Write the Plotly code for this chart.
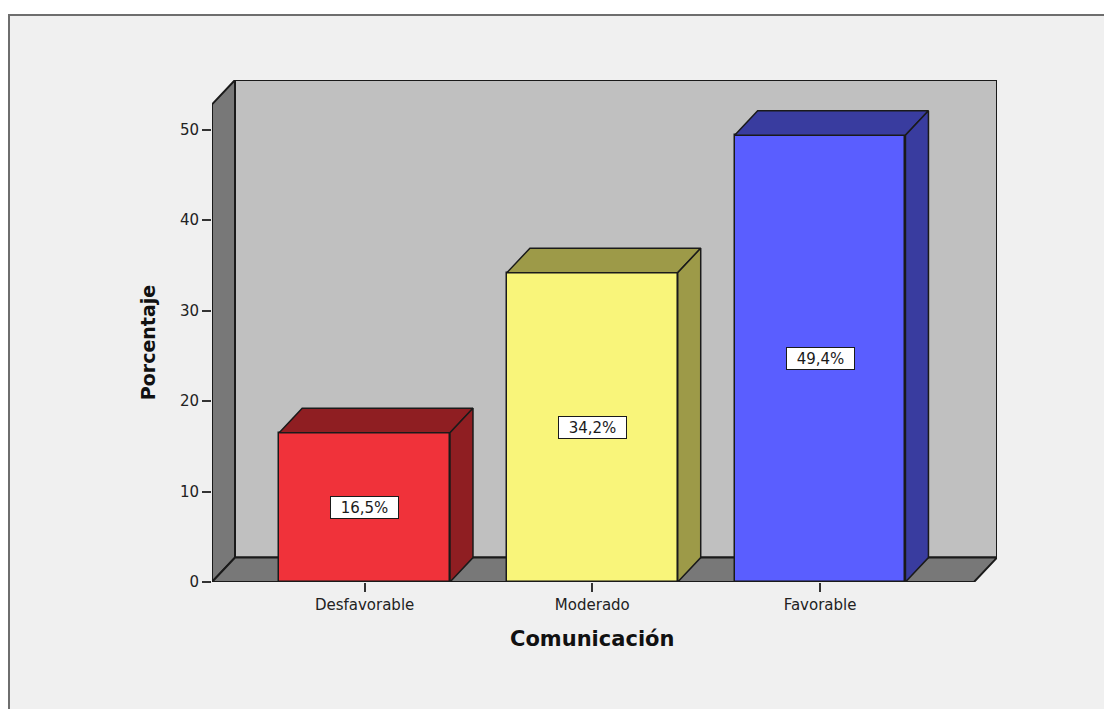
import plotly.graph_objects as go

# ---- data ----
categories = ["Desfavorable", "Moderado", "Favorable"]
percentages = [16.5, 34.2, 49.4]
value_labels = ["16,5%", "34,2%", "49,4%"]
y_ticks = [0, 10, 20, 30, 40, 50]
front_colors = ["#f0323a", "#f9f57a", "#5a5eff"]
side_colors = ["#8f1e22", "#9d9a48", "#393c9f"]

# ---- 3D geometry (in axis units) ----
BAR_W = 0.75
DX = 0.101
DY = 2.7
X_MIN, X_MAX = -0.67, 2.777
Y_TOP = 55.5
EDGE = "#1a1a1a"

x_pos = list(range(len(categories)))

fig = go.Figure()

# front faces
fig.add_trace(go.Bar(
    x=x_pos, y=percentages, width=BAR_W,
    marker=dict(color=front_colors, line=dict(color=EDGE, width=1.5)),
    hoverinfo="skip", showlegend=False,
))

# top and side faces
for i, (xc, v) in enumerate(zip(x_pos, percentages)):
    l = xc - BAR_W / 2
    r = xc + BAR_W / 2
    fig.add_trace(go.Scatter(
        x=[l, r, r + DX, l + DX, l], y=[v, v, v + DY, v + DY, v],
        fill="toself", fillcolor=side_colors[i], mode="lines",
        line=dict(color=EDGE, width=1.5), hoverinfo="skip", showlegend=False,
    ))
    fig.add_trace(go.Scatter(
        x=[r, r + DX, r + DX, r, r], y=[0, DY, v + DY, v, 0],
        fill="toself", fillcolor=side_colors[i], mode="lines",
        line=dict(color=EDGE, width=1.5), hoverinfo="skip", showlegend=False,
    ))

# walls and floor
shapes = [
    # outer frame
    dict(type="rect", xref="paper", yref="paper",
         x0=(9 - 212) / 785, x1=1.3, y0=-0.4, y1=(581.7 - 15) / 501.7,
         fillcolor="#f0f0f0", line=dict(color="#6e6e6e", width=2), layer="below"),
    # back wall
    dict(type="rect", xref="x", yref="y", x0=X_MIN + DX, x1=X_MAX, y0=DY, y1=Y_TOP,
         fillcolor="#c0c0c0", line=dict(color=EDGE, width=2), layer="below"),
    # left wall
    dict(type="path", xref="x", yref="y",
         path=f"M {X_MIN},0 L {X_MIN},{Y_TOP - DY} L {X_MIN + DX},{Y_TOP} L {X_MIN + DX},{DY} Z",
         fillcolor="#787878", line=dict(color=EDGE, width=2), layer="below"),
    # floor
    dict(type="path", xref="x", yref="y",
         path=f"M {X_MIN},0 L {X_MAX - DX},0 L {X_MAX},{DY} L {X_MIN + DX},{DY} Z",
         fillcolor="#787878", line=dict(color=EDGE, width=2), layer="below"),
]

annotations = []
for xc, v, t in zip(x_pos, percentages, value_labels):
    annotations.append(dict(
        x=xc, y=v / 2, xref="x", yref="y", text=t, showarrow=False,
        xanchor="center", yanchor="middle",
        font=dict(family="DejaVu Sans", size=15, color="#1a1a1a"),
        bgcolor="white", bordercolor=EDGE, borderwidth=1, borderpad=2,
        width=63, height=17,
    ))

annotations.append(dict(
    x=(148 - 212) / 785, y=(581.7 - 343) / 501.7, xref="paper", yref="paper",
    xanchor="center", yanchor="middle",
    text="<b>Porcentaje</b>", textangle=-90, showarrow=False,
    font=dict(family="DejaVu Sans", size=19, color="#111"),
))
annotations.append(dict(
    x=(592 - 212) / 785, y=(581.7 - 639) / 501.7, xref="paper", yref="paper",
    xanchor="center", yanchor="middle",
    text="<b>Comunicación</b>", showarrow=False,
    font=dict(family="DejaVu Sans", size=21, color="#111"),
))

fig.update_layout(
    width=1104, height=709,
    margin=dict(l=212, r=107, t=80, b=127),
    paper_bgcolor="white", plot_bgcolor="rgba(0,0,0,0)",
    shapes=shapes, annotations=annotations,
    showlegend=False, bargap=0,
    xaxis=dict(
        range=[X_MIN, X_MAX], tickvals=x_pos, ticktext=categories,
        showgrid=False, zeroline=False, showline=False,
        ticks="outside", ticklen=9, tickwidth=2, tickcolor="#333",
        tickfont=dict(family="DejaVu Sans", size=15, color="#222"),
        fixedrange=True,
    ),
    yaxis=dict(
        range=[0, Y_TOP], tickvals=y_ticks, ticktext=[str(t) for t in y_ticks],
        showgrid=False, zeroline=False, showline=False,
        ticks="outside", ticklen=9, tickwidth=1.5, tickcolor="#333",
        tickfont=dict(family="DejaVu Sans", size=15, color="#222"),
        fixedrange=True,
    ),
)

fig.write_html("out.html")
